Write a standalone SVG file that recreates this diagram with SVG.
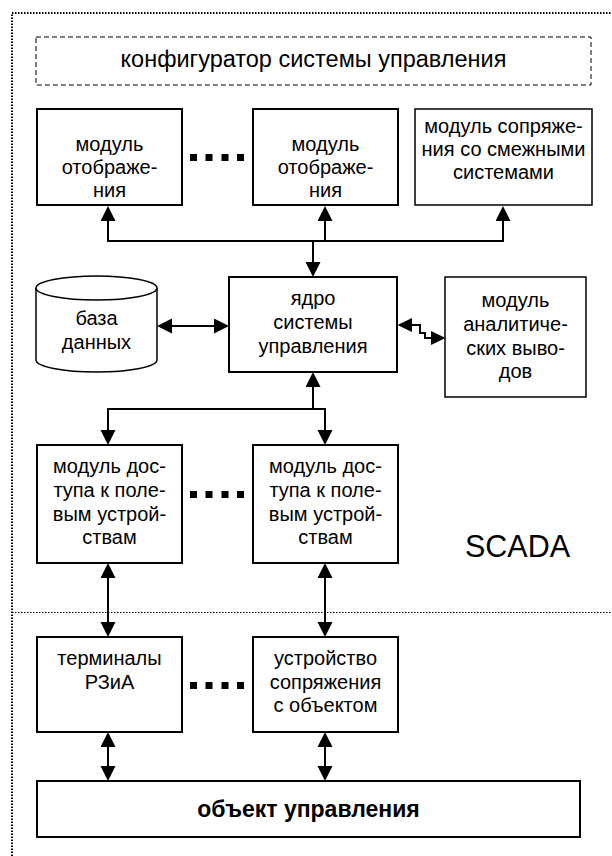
<svg xmlns="http://www.w3.org/2000/svg" width="612" height="856" viewBox="0 0 612 856">
<style>
text{font-family:"Liberation Sans",Arial,sans-serif;font-size:20px;fill:#000;text-anchor:middle}
.big{font-size:23.5px}
.scada{font-size:30.5px;text-anchor:start}
.bold{font-weight:bold;font-size:23px}
.box{fill:#fff;stroke:#000;stroke-width:2}
.thin{fill:#fff;stroke:#000;stroke-width:1.5}
.conn{fill:none;stroke:#000;stroke-width:2}
.frame{fill:none;stroke:#000;stroke-dasharray:1.5 1.5}
</style>
<defs>
<marker id="ah" markerUnits="userSpaceOnUse" markerWidth="16" markerHeight="16" refX="11" refY="7.5" orient="auto-start-reverse">
<path d="M0,0 L15,7.5 L0,15 z" fill="#000"/>
</marker>
<marker id="ahs" markerUnits="userSpaceOnUse" markerWidth="16" markerHeight="16" refX="10" refY="7" orient="auto-start-reverse">
<path d="M0,0 L14.5,7 L0,14 z" fill="#000"/>
</marker>
</defs>
<rect width="612" height="856" fill="#fff"/>
<g id="frame">
<path class="frame" d="M12,856 V13 H612" stroke-width="2"/>
<path class="frame" d="M12,612.5 H612" stroke-width="1.2"/>
</g>
<g id="configurator">
<rect x="36" y="37" width="555" height="48" fill="none" stroke="#000" stroke-width="1" stroke-dasharray="5 3"/>
<text class="big" x="313.5" y="67">конфигуратор системы управления</text>
</g>
<g id="display1">
<rect class="box" x="37" y="109" width="145" height="96"/>
<text x="109.5" y="151">модуль</text>
<text x="109.5" y="174">отображе-</text>
<text x="109.5" y="197">ния</text>
</g>
<g id="dots1">
<rect x="190" y="154" width="7" height="7"/><rect x="205.5" y="154" width="7" height="7"/><rect x="221.5" y="154" width="7" height="7"/><rect x="237" y="154" width="7" height="7"/>
</g>
<g id="display2">
<rect class="box" x="253" y="109" width="145" height="96"/>
<text x="325.5" y="151">модуль</text>
<text x="325.5" y="174">отображе-</text>
<text x="325.5" y="197">ния</text>
</g>
<g id="interface">
<rect class="thin" x="415" y="109" width="177" height="96"/>
<text x="503.5" y="133">модуль сопряже-</text>
<text x="503.5" y="156">ния со смежными</text>
<text x="503.5" y="179">системами</text>
</g>
<g id="database">
<path class="thin" d="M36,288 V360 A60.5,12 0 0 0 157,360 V288"/>
<ellipse class="thin" cx="96.5" cy="288" rx="60.5" ry="12"/>
<text x="96.5" y="325">база</text>
<text x="96.5" y="349">данных</text>
</g>
<g id="core">
<rect class="box" x="229" y="277" width="168" height="95"/>
<text x="313" y="305">ядро</text>
<text x="313" y="329">системы</text>
<text x="313" y="353">управления</text>
</g>
<g id="analytics">
<rect class="thin" x="445" y="277" width="141" height="120"/>
<text x="515.5" y="307">модуль</text>
<text x="515.5" y="331">аналитиче-</text>
<text x="515.5" y="355">ских выво-</text>
<text x="515.5" y="378">дов</text>
</g>
<g id="access1">
<rect class="box" x="37" y="445" width="145" height="118"/>
<text x="109.5" y="473">модуль дос-</text>
<text x="109.5" y="497">тупа к поле-</text>
<text x="109.5" y="521">вым устрой-</text>
<text x="109.5" y="544">ствам</text>
</g>
<g id="dots2">
<rect x="190" y="491" width="7" height="7"/><rect x="205.5" y="491" width="7" height="7"/><rect x="221.5" y="491" width="7" height="7"/><rect x="237" y="491" width="7" height="7"/>
</g>
<g id="access2">
<rect class="box" x="253" y="445" width="145" height="118"/>
<text x="325.5" y="473">модуль дос-</text>
<text x="325.5" y="497">тупа к поле-</text>
<text x="325.5" y="521">вым устрой-</text>
<text x="325.5" y="544">ствам</text>
</g>
<g id="scada">
<text class="scada" x="465" y="557">SCADA</text>
</g>
<g id="terminals">
<rect class="box" x="37" y="637" width="145" height="95"/>
<text x="109.5" y="665">терминалы</text>
<text x="109.5" y="689">РЗиА</text>
</g>
<g id="dots3">
<rect x="190" y="682" width="7" height="7"/><rect x="205.5" y="682" width="7" height="7"/><rect x="221.5" y="682" width="7" height="7"/><rect x="237" y="682" width="7" height="7"/>
</g>
<g id="device">
<rect class="box" x="253" y="637" width="145" height="95"/>
<text x="325.5" y="665">устройство</text>
<text x="325.5" y="689">сопряжения</text>
<text x="325.5" y="712">с объектом</text>
</g>
<g id="object">
<rect class="box" x="37" y="781" width="543" height="56"/>
<text class="bold" x="308.5" y="817">объект управления</text>
</g>
<g id="connectors">
<path class="conn" d="M108,210 V241 H503 V210" marker-start="url(#ah)" marker-end="url(#ah)"/>
<path class="conn" d="M325,241 V210" marker-end="url(#ah)"/>
<path class="conn" d="M313,241 V273" marker-end="url(#ah)"/>
<path class="conn" d="M161,326 H225" marker-start="url(#ah)" marker-end="url(#ah)"/>
<path class="conn" d="M402,325 H420 V333 H425 V338 H441" marker-start="url(#ahs)" marker-end="url(#ahs)"/>
<path class="conn" d="M313,409 V376" marker-end="url(#ah)"/>
<path class="conn" d="M108,441 V409 H325 V441" marker-start="url(#ah)" marker-end="url(#ah)"/>
<path class="conn" d="M108,567 V633" marker-start="url(#ah)" marker-end="url(#ah)"/>
<path class="conn" d="M325,567 V633" marker-start="url(#ah)" marker-end="url(#ah)"/>
<path class="conn" d="M108,736 V777" marker-start="url(#ah)" marker-end="url(#ah)"/>
<path class="conn" d="M325,736 V777" marker-start="url(#ah)" marker-end="url(#ah)"/>
</g>
</svg>
